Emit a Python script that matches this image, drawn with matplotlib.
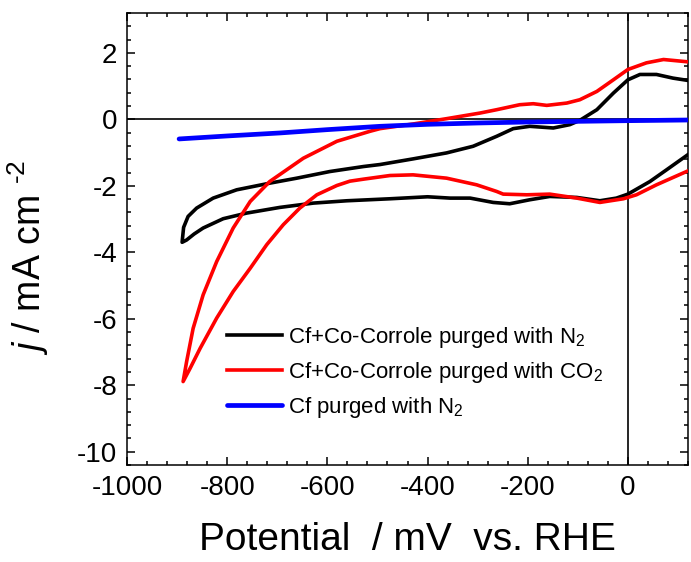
import numpy as np
import matplotlib
matplotlib.use("Agg")
import matplotlib.pyplot as plt
from matplotlib.ticker import MultipleLocator

plt.rcParams['font.family'] = ['Liberation Sans', 'DejaVu Sans']
plt.rcParams['mathtext.fontset'] = 'custom'
plt.rcParams['mathtext.rm'] = 'Liberation Sans'
plt.rcParams['mathtext.it'] = 'Liberation Sans:italic'
plt.rcParams['axes.unicode_minus'] = False

# Cf+Co-Corrole, N2 : upper branch (right -> left), then lower branch (left -> right)
n2_upper_E = [120, 90, 57, 24, 0, -29, -62, -96, -116, -149, -196, -229, -262, -309,
              -362, -429, -495, -528, -595, -661, -715, -781, -828, -861, -878, -887, -890]
n2_upper_j = [1.17, 1.24, 1.35, 1.35, 1.19, 0.79, 0.29, -0.03, -0.16, -0.26, -0.21, -0.28,
              -0.51, -0.81, -1.01, -1.19, -1.36, -1.42, -1.57, -1.77, -1.92, -2.12, -2.37,
              -2.67, -2.92, -3.25, -3.70]
n2_lower_E = [-881, -866, -848, -808, -761, -695, -628, -561, -475, -400, -355, -315, -269,
              -236, -196, -156, -102, -56, -23, 0, 44, 77, 120]
n2_lower_j = [-3.63, -3.45, -3.27, -2.99, -2.82, -2.65, -2.52, -2.45, -2.39, -2.33, -2.37,
              -2.37, -2.50, -2.54, -2.42, -2.32, -2.35, -2.45, -2.37, -2.25, -1.87, -1.52, -1.06]

# Cf+Co-Corrole, CO2
co2_upper_E = [120, 71, 37, 0, -29, -62, -96, -122, -162, -189, -216, -262, -295, -362,
               -429, -495, -515, -581, -648, -715, -754, -788, -821, -848, -868, -881, -888]
co2_upper_j = [1.73, 1.80, 1.70, 1.50, 1.19, 0.84, 0.59, 0.49, 0.42, 0.47, 0.44, 0.29, 0.19,
               0.02, -0.14, -0.28, -0.36, -0.66, -1.17, -1.87, -2.47, -3.27, -4.28, -5.28,
               -6.29, -7.29, -7.89]
co2_lower_E = [-874, -854, -821, -788, -754, -721, -688, -655, -621, -581, -555, -528, -475,
               -429, -362, -302, -262, -249, -202, -156, -102, -56, -9, 17, 57, 120]
co2_lower_j = [-7.49, -6.89, -5.98, -5.18, -4.48, -3.77, -3.17, -2.67, -2.27, -1.99, -1.86,
               -1.80, -1.69, -1.67, -1.77, -1.97, -2.17, -2.25, -2.27, -2.25, -2.37, -2.50,
               -2.39, -2.27, -1.97, -1.55]

# Cf, N2
cf_E = [-896, -800, -695, -600, -495, -400, -300, -200, -100, 0, 120]
cf_j = [-0.59, -0.50, -0.41, -0.31, -0.21, -0.15, -0.11, -0.08, -0.06, -0.04, -0.02]

labels = ['Cf+Co-Corrole purged with N$_2$',
          'Cf+Co-Corrole purged with CO$_2$',
          'Cf purged with N$_2$']

fig = plt.figure(figsize=(6.91, 5.62), dpi=100)
ax = fig.add_axes([0.1838, 0.1726, 0.8119, 0.8043])

ax.axhline(0, color='black', lw=1.2, zorder=1)
ax.axvline(0, color='black', lw=1.2, zorder=1)

ax.plot(n2_upper_E + n2_lower_E, n2_upper_j + n2_lower_j, color='black', lw=2.6,
        solid_joinstyle='round', label=labels[0], zorder=2)
ax.plot(co2_upper_E + co2_lower_E, co2_upper_j + co2_lower_j, color='#ff0000', lw=2.6,
        solid_joinstyle='round', label=labels[1], zorder=3)
ax.plot(cf_E, cf_j, color='#0000ff', lw=3.4, solid_capstyle='round', label=labels[2], zorder=4)

ax.set_xlim(-1000, 120)
ax.set_ylim(-10.4, 3.2)
ax.xaxis.set_major_locator(MultipleLocator(200))
ax.xaxis.set_minor_locator(MultipleLocator(40))
ax.yaxis.set_major_locator(MultipleLocator(2))
ax.yaxis.set_minor_locator(MultipleLocator(0.4))
ax.tick_params(which='both', direction='in', top=True, right=True, width=1.1)
ax.tick_params(which='major', length=6, labelsize=20, pad=7)
ax.tick_params(which='minor', length=3)
ax.tick_params(axis='x', which='both', labeltop=False)
for s in ax.spines.values():
    s.set_linewidth(1.1)

ax.set_xlabel('Potential  / mV  vs. RHE', fontsize=28, labelpad=15)
ax.set_ylabel(r'$j$ / mA cm $^{\text{-2}}$', fontsize=27)
ax.yaxis.set_label_coords(-0.135, 0.46)

ax.legend(loc='upper left', bbox_to_anchor=(0.178, 0.31), frameon=False, fontsize=16,
          handlelength=2.5, handletextpad=0.25, borderpad=0, borderaxespad=0,
          labelspacing=0.45)

fig.savefig('out.png', dpi=100)
